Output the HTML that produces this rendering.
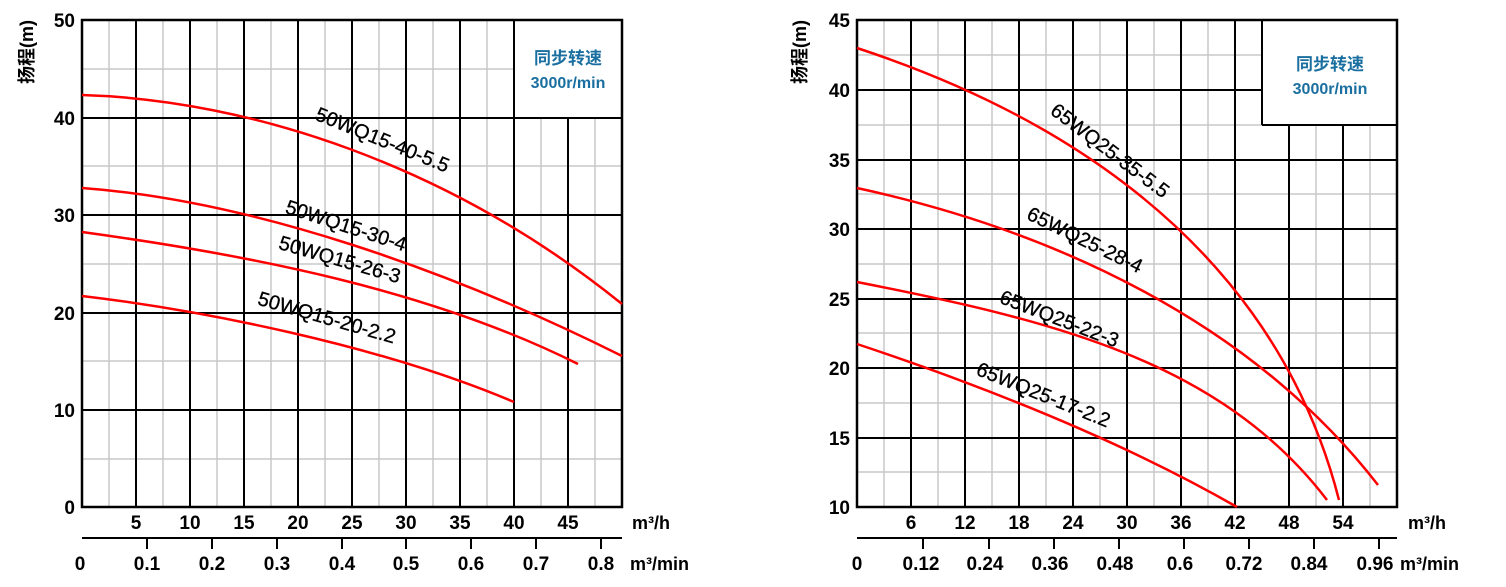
<!DOCTYPE html>
<html><head><meta charset="utf-8"><style>
html,body{margin:0;padding:0;background:#fff;}
svg{display:block;}
text{font-family:"Liberation Sans","Noto Sans CJK SC",sans-serif;}
.tb{font-size:19px;fill:#000;font-weight:bold;}
.lab{font-size:20px;fill:#000;stroke:#000;stroke-width:0.3;}
.mj{stroke:#000;stroke-width:2;}
.mn{stroke:#c8c8c8;stroke-width:1.5;}
.c{fill:none;stroke:#f00;stroke-width:2.5;}
.leg{fill:#1a6fa0;font-weight:bold;font-size:17px;}
</style></head><body>
<svg width="1506" height="587" viewBox="0 0 1506 587" xmlns="http://www.w3.org/2000/svg">
<g>
<g class="mn">
<line x1="109" y1="20" x2="109" y2="507"/><line x1="163" y1="20" x2="163" y2="507"/><line x1="217" y1="20" x2="217" y2="507"/><line x1="271" y1="20" x2="271" y2="507"/><line x1="325" y1="20" x2="325" y2="507"/><line x1="379" y1="20" x2="379" y2="507"/><line x1="433" y1="20" x2="433" y2="507"/><line x1="487" y1="20" x2="487" y2="507"/><line x1="541" y1="118" x2="541" y2="507"/><line x1="595" y1="118" x2="595" y2="507"/>
<line x1="82" y1="69" x2="514" y2="69"/><line x1="82" y1="166" x2="622" y2="166"/><line x1="82" y1="264" x2="622" y2="264"/><line x1="82" y1="361" x2="622" y2="361"/><line x1="82" y1="459" x2="622" y2="459"/>
</g>
<g class="mj">
<line x1="136" y1="20" x2="136" y2="507"/><line x1="190" y1="20" x2="190" y2="507"/><line x1="244" y1="20" x2="244" y2="507"/><line x1="298" y1="20" x2="298" y2="507"/><line x1="352" y1="20" x2="352" y2="507"/><line x1="406" y1="20" x2="406" y2="507"/><line x1="460" y1="20" x2="460" y2="507"/><line x1="514" y1="20" x2="514" y2="507"/><line x1="568" y1="118" x2="568" y2="507"/>
<line x1="82" y1="118" x2="622" y2="118"/><line x1="82" y1="215" x2="622" y2="215"/><line x1="82" y1="313" x2="622" y2="313"/><line x1="82" y1="410" x2="622" y2="410"/>
<rect x="82" y="20" width="540" height="487" fill="none" stroke-width="2.5"/>
<line x1="82" y1="538" x2="622" y2="538"/>
<line x1="147" y1="538" x2="147" y2="549"/><line x1="212" y1="538" x2="212" y2="549"/><line x1="277" y1="538" x2="277" y2="549"/><line x1="342" y1="538" x2="342" y2="549"/><line x1="406" y1="538" x2="406" y2="549"/><line x1="471" y1="538" x2="471" y2="549"/><line x1="536" y1="538" x2="536" y2="549"/><line x1="601" y1="538" x2="601" y2="549"/>
</g>
<text class="leg" x="568" y="64" text-anchor="middle">同步转速</text>
<text class="leg" x="568" y="88" text-anchor="middle" style="font-size:16px">3000r/min</text>
<g class="tb" text-anchor="end">
<text x="75" y="27">50</text><text x="75" y="125">40</text><text x="75" y="222">30</text><text x="75" y="320">20</text><text x="75" y="417">10</text><text x="75" y="514">0</text>
</g>
<g class="tb" text-anchor="middle">
<text x="136" y="529">5</text><text x="190" y="529">10</text><text x="244" y="529">15</text><text x="298" y="529">20</text><text x="352" y="529">25</text><text x="406" y="529">30</text><text x="460" y="529">35</text><text x="514" y="529">40</text><text x="568" y="529">45</text>
<text x="80" y="570">0</text><text x="147" y="570">0.1</text><text x="212" y="570">0.2</text><text x="277" y="570">0.3</text><text x="342" y="570">0.4</text><text x="406" y="570">0.5</text><text x="471" y="570">0.6</text><text x="536" y="570">0.7</text><text x="601" y="570">0.8</text>
</g>
<text class="tb" x="632" y="529" style="font-size:18px">m³/h</text>
<text class="tb" x="630" y="570" style="font-size:18px">m³/min</text>
<text class="tb" transform="translate(33,52) rotate(-90)" text-anchor="middle" style="font-size:18px">扬程(m)</text>
<path class="c" d="M82,95 C250,100 450,165 622,304"/>
<path class="c" d="M82,188 C250,200 450,270 622,356"/>
<path class="c" d="M82,232 C250,255 430,290 578,364"/>
<path class="c" d="M82,296 C200,310 380,345 514,402"/>
<text class="lab" transform="translate(380,146) rotate(22)" text-anchor="middle">50WQ15-40-5.5</text>
<text class="lab" transform="translate(344,232) rotate(18)" text-anchor="middle">50WQ15-30-4</text>
<text class="lab" transform="translate(338,266) rotate(16)" text-anchor="middle">50WQ15-26-3</text>
<text class="lab" transform="translate(325,324) rotate(16)" text-anchor="middle">50WQ15-20-2.2</text>
</g>

<g>
<g class="mn">
<line x1="884" y1="20" x2="884" y2="507"/><line x1="938" y1="20" x2="938" y2="507"/><line x1="992" y1="20" x2="992" y2="507"/><line x1="1046" y1="20" x2="1046" y2="507"/><line x1="1100" y1="20" x2="1100" y2="507"/><line x1="1154" y1="20" x2="1154" y2="507"/><line x1="1208" y1="20" x2="1208" y2="507"/><line x1="1316" y1="125" x2="1316" y2="507"/><line x1="1370" y1="125" x2="1370" y2="507"/>
<line x1="857" y1="55" x2="1262" y2="55"/><line x1="857" y1="194" x2="1397" y2="194"/><line x1="857" y1="264" x2="1397" y2="264"/><line x1="857" y1="333" x2="1397" y2="333"/><line x1="857" y1="403" x2="1397" y2="403"/><line x1="857" y1="472" x2="1397" y2="472"/><line x1="857" y1="125" x2="1262" y2="125"/>
</g>
<g class="mj">
<line x1="911" y1="20" x2="911" y2="507"/><line x1="965" y1="20" x2="965" y2="507"/><line x1="1019" y1="20" x2="1019" y2="507"/><line x1="1073" y1="20" x2="1073" y2="507"/><line x1="1127" y1="20" x2="1127" y2="507"/><line x1="1181" y1="20" x2="1181" y2="507"/><line x1="1235" y1="20" x2="1235" y2="507"/><line x1="1289" y1="125" x2="1289" y2="507"/><line x1="1343" y1="125" x2="1343" y2="507"/>
<line x1="857" y1="90" x2="1262" y2="90"/><line x1="857" y1="160" x2="1397" y2="160"/><line x1="857" y1="229" x2="1397" y2="229"/><line x1="857" y1="299" x2="1397" y2="299"/><line x1="857" y1="368" x2="1397" y2="368"/><line x1="857" y1="438" x2="1397" y2="438"/>
<line x1="1262" y1="20" x2="1262" y2="125"/><line x1="1262" y1="125" x2="1397" y2="125"/>
<rect x="857" y="20" width="540" height="487" fill="none" stroke-width="2.5"/>
<line x1="857" y1="538" x2="1397" y2="538"/>
<line x1="923" y1="538" x2="923" y2="549"/><line x1="989" y1="538" x2="989" y2="549"/><line x1="1054" y1="538" x2="1054" y2="549"/><line x1="1119" y1="538" x2="1119" y2="549"/><line x1="1184" y1="538" x2="1184" y2="549"/><line x1="1249" y1="538" x2="1249" y2="549"/><line x1="1314" y1="538" x2="1314" y2="549"/><line x1="1379" y1="538" x2="1379" y2="549"/>
</g>
<text class="leg" x="1330" y="70" text-anchor="middle">同步转速</text>
<text class="leg" x="1330" y="94" text-anchor="middle" style="font-size:16px">3000r/min</text>
<g class="tb" text-anchor="end">
<text x="850" y="27">45</text><text x="850" y="97">40</text><text x="850" y="167">35</text><text x="850" y="236">30</text><text x="850" y="306">25</text><text x="850" y="375">20</text><text x="850" y="445">15</text><text x="850" y="514">10</text>
</g>
<g class="tb" text-anchor="middle">
<text x="911" y="529">6</text><text x="965" y="529">12</text><text x="1019" y="529">18</text><text x="1073" y="529">24</text><text x="1127" y="529">30</text><text x="1181" y="529">36</text><text x="1235" y="529">42</text><text x="1289" y="529">48</text><text x="1343" y="529">54</text>
<text x="857" y="570">0</text><text x="921" y="570">0.12</text><text x="985" y="570">0.24</text><text x="1050" y="570">0.36</text><text x="1115" y="570">0.48</text><text x="1180" y="570">0.6</text><text x="1244" y="570">0.72</text><text x="1309" y="570">0.84</text><text x="1375" y="570">0.96</text>
</g>
<text class="tb" x="1408" y="529" style="font-size:18px">m³/h</text>
<text class="tb" x="1400" y="570" style="font-size:18px">m³/min</text>
<text class="tb" transform="translate(806,52) rotate(-90)" text-anchor="middle" style="font-size:18px">扬程(m)</text>
<path class="c" d="M857,48 C1000,95 1265,210 1339,500"/>
<path class="c" d="M857,188 C1050,230 1250,320 1378,485"/>
<path class="c" d="M857,282 C1050,320 1220,360 1327,500"/>
<path class="c" d="M857,344 C980,385 1120,440 1237,507"/>
<text class="lab" transform="translate(1106,156) rotate(37)" text-anchor="middle">65WQ25-35-5.5</text>
<text class="lab" transform="translate(1082,246) rotate(26)" text-anchor="middle">65WQ25-28-4</text>
<text class="lab" transform="translate(1057,325) rotate(21)" text-anchor="middle">65WQ25-22-3</text>
<text class="lab" transform="translate(1041,401) rotate(22)" text-anchor="middle">65WQ25-17-2.2</text>
</g>
</svg>
</body></html>
